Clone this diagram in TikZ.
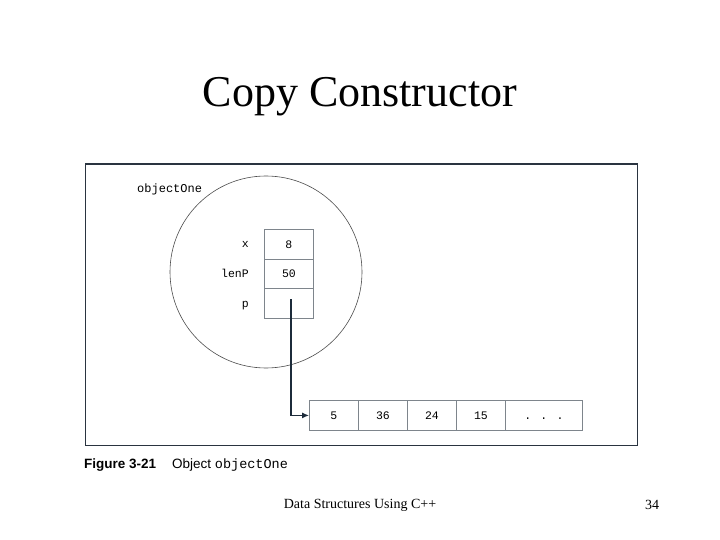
\documentclass[tikz,border=0pt]{standalone}
\usepackage{fontspec}
\setmainfont{Liberation Serif}
\newfontfamily\monof{Liberation Mono}
\newfontfamily\capf{Liberation Sans}
\usetikzlibrary{arrows.meta}
\definecolor{frame}{HTML}{2A3440}
\definecolor{cellline}{HTML}{7E858C}
\definecolor{arrowc}{HTML}{1C2B3A}
\begin{document}
\begin{tikzpicture}[x=1pt,y=-1pt,
  cell/.style={draw=cellline,line width=0.8pt,minimum height=29.5pt,inner sep=0pt,text height=8pt,text depth=0pt,font=\monof\fontsize{11.5}{12}\selectfont,anchor=north west},
  lbl/.style={font=\monof\fontsize{11.5}{12}\selectfont,anchor=east,inner sep=0pt,text height=8pt,text depth=0pt},
  conn/.style={draw=arrowc,line width=1.2pt,-{Latex[length=7pt,width=6pt]}}]
\useasboundingbox (0,0) rectangle (720,540);
\node[font=\fontsize{44}{50}\selectfont] (title) at (360,97) {Copy Constructor};
\node[draw=frame,line width=1.5pt,minimum width=552pt,minimum height=281pt,anchor=north west,inner sep=0pt] (frm) at (84.5,163.5) {};
\node[draw=black!70,line width=0.6pt,circle,minimum size=192pt,inner sep=0pt] (obj) at (266,272) {};
\node[font=\monof\fontsize{12}{12}\selectfont,anchor=west,inner sep=0pt] (objname) at (137,189) {objectOne};
\node[cell,minimum width=49pt] (cx) at (264,229) {8};
\node[cell,minimum width=49pt] (clen) at (264,258.5) {50};
\node[cell,minimum width=49pt] (cp) at (264,288) {};
\node[lbl] (lx) at (249,243.5) {x};
\node[lbl] (llen) at (249,273) {lenP};
\node[lbl] (lp) at (249,303) {p};
\node[cell,minimum width=49pt,minimum height=30pt] (a0) at (309,400) {5};
\node[cell,minimum width=49pt,minimum height=30pt] (a1) at (358,400) {36};
\node[cell,minimum width=49pt,minimum height=30pt] (a2) at (407,400) {24};
\node[cell,minimum width=49pt,minimum height=30pt] (a3) at (456,400) {15};
\node[cell,minimum width=77pt,minimum height=30pt] (a4) at (505,400) {. . .};
\coordinate (start) at (291,299);
\draw[conn] (start) |- (a0.west);
\node[font=\capf\bfseries\fontsize{13.5}{15}\selectfont,anchor=west,inner sep=0pt] (figno) at (84,465) {Figure 3-21};
\node[font=\capf\fontsize{13.5}{15}\selectfont,anchor=west,inner sep=0pt] (figcap) at (172,465) {Object {\monof\fontsize{13.5}{15}\selectfont objectOne}};
\node[font=\fontsize{14}{16}\selectfont] (foot) at (360,505) {Data Structures Using C++};
\node[font=\fontsize{14}{16}\selectfont] (page) at (652,505) {34};
\end{tikzpicture}
\end{document}
